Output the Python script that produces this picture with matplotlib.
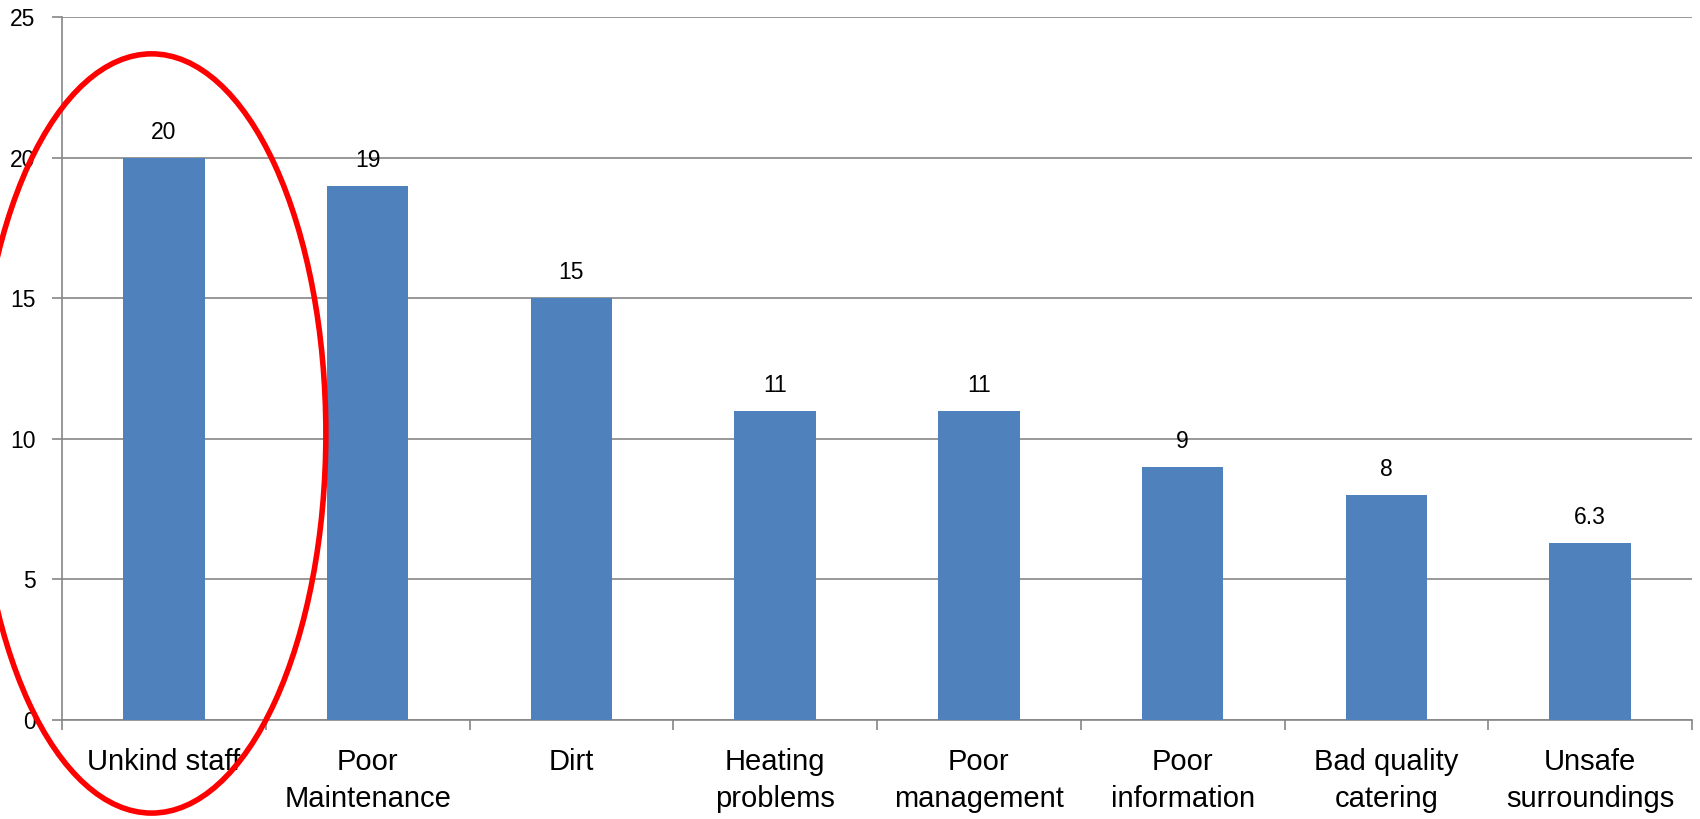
import matplotlib
matplotlib.use("Agg")
import matplotlib.pyplot as plt
from matplotlib.patches import Ellipse

categories = ["Unkind staff", "Poor\nMaintenance", "Dirt", "Heating\nproblems",
              "Poor\nmanagement", "Poor\ninformation", "Bad quality\ncatering",
              "Unsafe\nsurroundings"]
values = [20, 19, 15, 11, 11, 9, 8, 6.3]
value_labels = ["20", "19", "15", "11", "11", "9", "8", "6.3"]
yticks = [0, 5, 10, 15, 20, 25]

plt.rcParams['font.family'] = ['Liberation Sans', 'DejaVu Sans']

fig = plt.figure(figsize=(17, 8.19), dpi=100)
ax = fig.add_axes([62/1700, 1-720/819, (1692-62)/1700, (720-17)/819])

grey = '#868686'
x = list(range(len(categories)))
ax.bar(x, values, width=0.4, color='#4F81BD', zorder=3)
ax.set_xlim(-0.5, len(categories)-0.5)
ax.set_ylim(0, 25)
ax.set_yticks(yticks)
ax.set_yticklabels([str(t) for t in yticks], fontsize=16.5)
ax.yaxis.grid(True, color=grey, linewidth=1.2, zorder=0)
ax.set_xticks(x)
ax.set_xticklabels(categories, fontsize=21, linespacing=1.4)
ax.set_xticks([i - 0.5 for i in range(len(categories)+1)], minor=True)
ax.tick_params(axis='x', which='major', length=0, pad=20)
ax.tick_params(axis='x', which='minor', length=7, color=grey, width=1.2)
ax.tick_params(axis='y', length=7, color=grey, width=1.2, pad=12)
for s in ['top', 'right']:
    ax.spines[s].set_visible(False)
for s in ['left', 'bottom']:
    ax.spines[s].set_color(grey)
    ax.spines[s].set_linewidth(1.2)

for xi, v, lab in zip(x, values, value_labels):
    ax.annotate(lab, (xi, v), xytext=(0, 13.5), textcoords='offset points',
                ha='center', va='baseline', fontsize=16.5)

ell = Ellipse((-0.06, 10.19), width=1.71, height=27.0, fill=False,
              edgecolor='#FF0000', linewidth=4, clip_on=False, zorder=5)
ax.add_patch(ell)

fig.savefig("out.png", dpi=100)
